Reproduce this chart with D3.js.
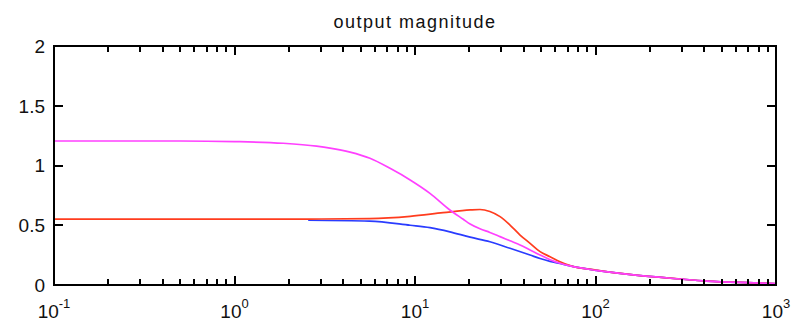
<!DOCTYPE html>
<html>
<head>
<meta charset="utf-8">
<script src="https://cdn.jsdelivr.net/npm/d3@7"></script>
<style>
  body { margin: 0; background: #fff; }
  svg { display: block; font-family: "Liberation Sans", Arial, sans-serif; }
</style>
</head>
<body>
<svg id="chart"></svg>
<script>
// values
const titleText = "output magnitude";
const yTickValues = [0, 0.5, 1, 1.5, 2];
const yTickLabels = ["0", "0.5", "1", "1.5", "2"];
const xDecades = [-1, 0, 1, 2, 3];

const magentaFreq = [0.1, 0.5, 1, 1.86, 2.85, 3.38, 4.37, 5.63, 7.27, 9.4, 12.1, 15.6, 18.5, 20.2, 22.9, 26, 29.6, 33.6, 38.2, 43.4, 49.3, 56, 63.6, 72.3, 101, 162, 295, 412, 890, 1000];
const magentaVals = [1.205, 1.205, 1.2, 1.186, 1.162, 1.146, 1.112, 1.06, 0.976, 0.879, 0.767, 0.628, 0.55, 0.51, 0.47, 0.44, 0.405, 0.37, 0.335, 0.293, 0.251, 0.212, 0.182, 0.16, 0.122, 0.084, 0.05, 0.033, 0.014, 0.01];

const redFreq = [0.1, 1, 2.56, 5.6, 9.4, 14.3, 20.2, 22.9, 26, 29.6, 33.6, 38.2, 43.4, 49.3, 56, 63.6, 72.3, 101, 162, 295, 412, 890, 1000];
const redVals = [0.552, 0.552, 0.552, 0.556, 0.575, 0.605, 0.628, 0.632, 0.615, 0.572, 0.502, 0.418, 0.349, 0.279, 0.237, 0.195, 0.162, 0.124, 0.084, 0.05, 0.033, 0.014, 0.01];

const blueFreq = [2.56, 5.6, 9.4, 12.1, 15.6, 20.2, 26, 33.6, 43.4, 49.3, 56, 63.6, 72.3, 101, 162, 295, 412, 890, 1000];
const blueVals = [0.542, 0.535, 0.5, 0.48, 0.445, 0.4, 0.362, 0.307, 0.251, 0.222, 0.198, 0.18, 0.16, 0.122, 0.084, 0.05, 0.033, 0.014, 0.01];

const width = 792, height = 325;
const margin = {top: 46, right: 16, bottom: 40, left: 54};

const svg = d3.select("#chart").attr("width", width).attr("height", height);

const x = d3.scaleLog().domain([0.1, 1000]).range([margin.left, width - margin.right]);
const y = d3.scaleLinear().domain([0, 2]).range([height - margin.bottom, margin.top]);

const x0 = x.range()[0], x1 = x.range()[1], y0 = y.range()[0], y1 = y.range()[1];

// curves
const line = d3.line()
  .x(d => x(d[0]))
  .y(d => y(d[1]))
  .curve(d3.curveMonotoneX);

const series = [
  {freq: blueFreq, vals: blueVals, color: "#2a3cff"},
  {freq: redFreq, vals: redVals, color: "#ff3c1e"},
  {freq: magentaFreq, vals: magentaVals, color: "#ff40ff"}
];

svg.append("g")
  .selectAll("path")
  .data(series)
  .enter()
  .append("path")
  .attr("d", s => line(s.freq.map((f, i) => [f, s.vals[i]])))
  .attr("fill", "none")
  .attr("stroke", s => s.color)
  .attr("stroke-width", 1.7);

// box
svg.append("rect")
  .attr("x", x0).attr("y", y1)
  .attr("width", x1 - x0).attr("height", y0 - y1)
  .attr("fill", "none")
  .attr("stroke", "#000")
  .attr("stroke-width", 2);

// ticks, pointing inward on all four sides (small filled rects)
const isMajor = v => Math.abs(Math.log10(v) - Math.round(Math.log10(v))) < 1e-9;
const xTicks = x.ticks();
const tickG = svg.append("g").attr("fill", "#000");

tickG.selectAll(".xb")
  .data(xTicks)
  .join("rect")
  .attr("class", "xb")
  .attr("x", d => Math.round(x(d)) - 1)
  .attr("y", d => y0 - (isMajor(d) ? 9 : 6))
  .attr("width", 2)
  .attr("height", d => isMajor(d) ? 9 : 6);

tickG.selectAll(".xt")
  .data(xTicks)
  .join("rect")
  .attr("class", "xt")
  .attr("x", d => Math.round(x(d)) - 1)
  .attr("y", y1)
  .attr("width", 2)
  .attr("height", d => isMajor(d) ? 9 : 6);

tickG.selectAll(".yl")
  .data(yTickValues)
  .join("rect")
  .attr("class", "yl")
  .attr("x", x0)
  .attr("y", d => Math.round(y(d)) - 1)
  .attr("width", 9)
  .attr("height", 2);

tickG.selectAll(".yr")
  .data(yTickValues)
  .join("rect")
  .attr("class", "yr")
  .attr("x", x1 - 9)
  .attr("y", d => Math.round(y(d)) - 1)
  .attr("width", 9)
  .attr("height", 2);

// y tick labels
svg.append("g")
  .selectAll("text")
  .data(yTickValues)
  .enter()
  .append("text")
  .attr("x", x0 - 9)
  .attr("y", d => y(d))
  .attr("dy", "0.36em")
  .attr("text-anchor", "end")
  .attr("fill", "#111")
  .style("font-size", "19px")
  .text((d, i) => yTickLabels[i]);

// x tick labels 10^n
const xl = svg.append("g")
  .selectAll("text")
  .data(xDecades)
  .enter()
  .append("text")
  .attr("x", d => x(Math.pow(10, d)))
  .attr("y", 318)
  .attr("text-anchor", "middle")
  .attr("fill", "#111")
  .style("font-size", "19px");
xl.append("tspan").text("10");
xl.append("tspan")
  .attr("dy", -10)
  .style("font-size", "13px")
  .text(d => String(d));

// title
svg.append("text")
  .attr("x", (x0 + x1) / 2)
  .attr("y", 28)
  .attr("text-anchor", "middle")
  .attr("fill", "#111")
  .style("font-size", "18px")
  .style("letter-spacing", "1.5px")
  .text(titleText);
</script>
</body>
</html>
